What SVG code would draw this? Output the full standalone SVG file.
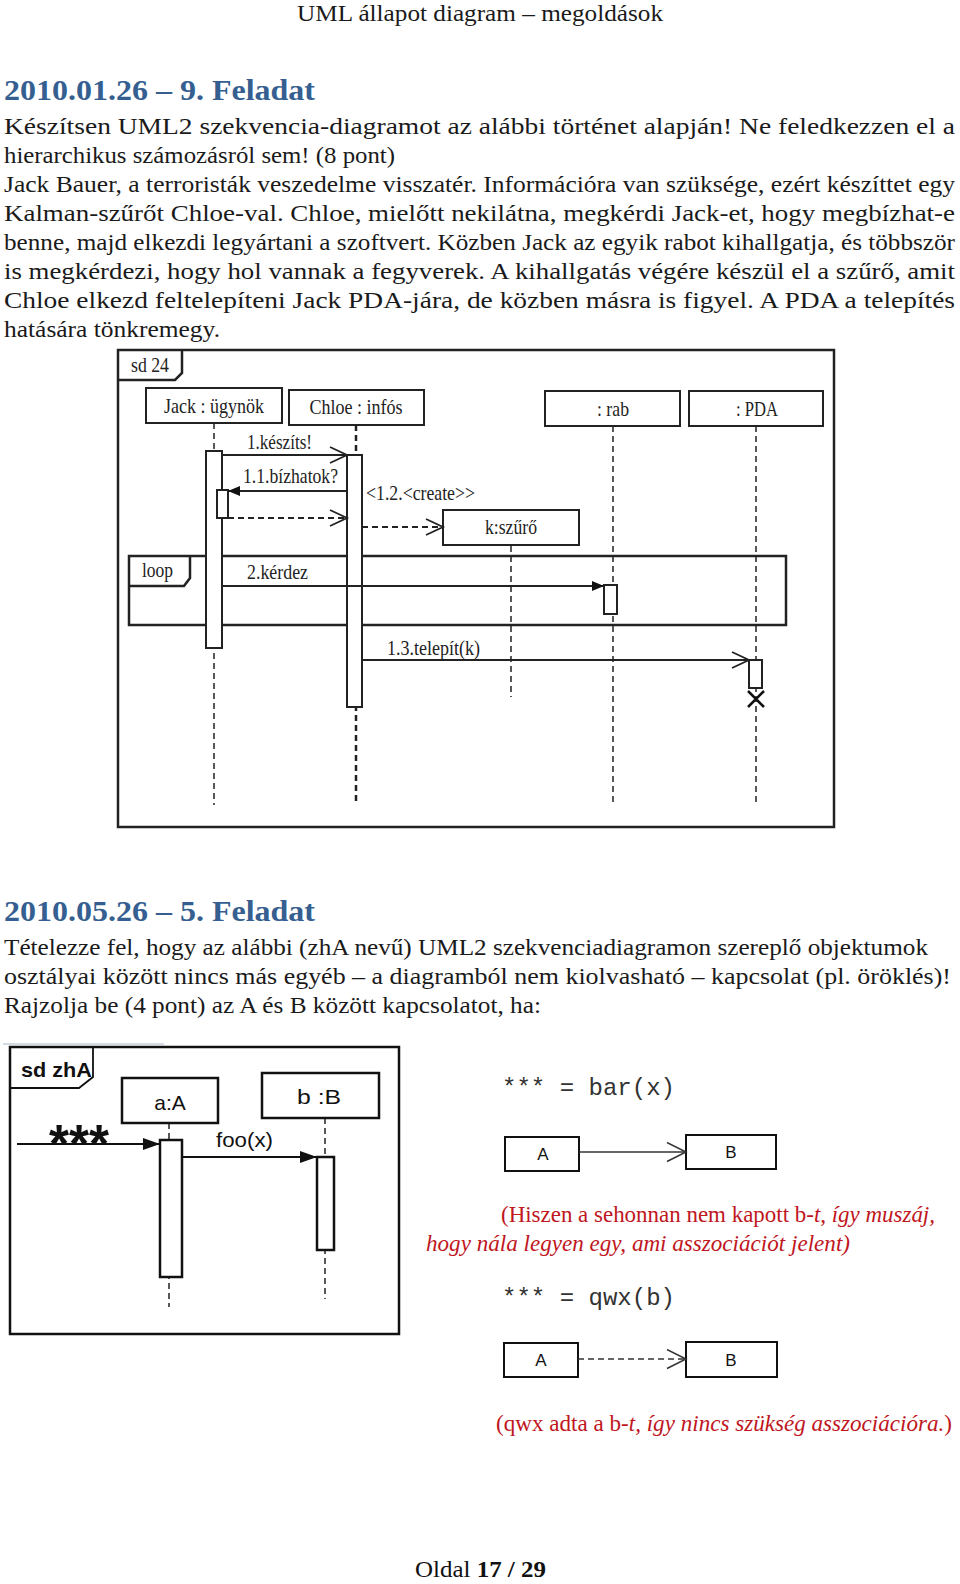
<svg xmlns="http://www.w3.org/2000/svg" width="960" height="1584" viewBox="0 0 960 1584">
<style>
.body{font-family:"Liberation Serif","Times New Roman",serif;font-size:24px;fill:#1a1a1a}
.hd{font-family:"Liberation Serif",serif;font-size:30px;font-weight:bold;fill:#365F91}
.t1{font-family:"Liberation Serif",serif;font-size:21px;fill:#222}
.t2{font-family:"Liberation Sans",Arial,sans-serif;font-size:21px;fill:#111}
.mono{font-family:"Liberation Mono","Courier New",monospace;font-size:24px;fill:#333}
.red{font-family:"Liberation Serif",serif;font-size:23px;fill:#c0161d}
.box{fill:#fff;stroke:#222;stroke-width:2}
.box2{fill:#fff;stroke:#111;stroke-width:2.5}
.fr{fill:none;stroke:#222;stroke-width:2.5}
.ll{stroke:#222;stroke-width:1.5;stroke-dasharray:6 4;fill:none}
.llb{stroke:#222;stroke-width:2.5;stroke-dasharray:6 4;fill:none}
.msg{stroke:#222;stroke-width:1.8;fill:none}
.dmsg{stroke:#222;stroke-width:1.8;fill:none;stroke-dasharray:6 4}
</style>
<defs>
<marker id="open" markerUnits="userSpaceOnUse" markerWidth="22" markerHeight="20" refX="18" refY="9" orient="auto"><path d="M1,1 L18,9 L1,17" fill="none" stroke="#222" stroke-width="1.8"/></marker>
<marker id="open2" markerUnits="userSpaceOnUse" markerWidth="24" markerHeight="22" refX="20" refY="10" orient="auto"><path d="M1,0.5 L20,10 L1,19.5" fill="none" stroke="#333" stroke-width="1.5"/></marker>
<marker id="fill" markerUnits="userSpaceOnUse" markerWidth="14" markerHeight="12" refX="12" refY="6" orient="auto"><path d="M0,1 L12,6 L0,11 z" fill="#111"/></marker>
<marker id="fill2" markerUnits="userSpaceOnUse" markerWidth="18" markerHeight="14" refX="17" refY="7" orient="auto"><path d="M0,1 L17,7 L0,13 z" fill="#111"/></marker>
</defs>

<!-- page header -->
<text x="297" y="21" font-family="Liberation Serif,serif" font-size="23" fill="#1a1a1a" textLength="366" lengthAdjust="spacingAndGlyphs">UML állapot diagram – megoldások</text>

<text class="hd" x="4" y="100" textLength="311" lengthAdjust="spacingAndGlyphs">2010.01.26 – 9. Feladat</text>

<g class="body">
<text x="4" y="134" textLength="951" lengthAdjust="spacingAndGlyphs">Készítsen UML2 szekvencia-diagramot az alábbi történet alapján! Ne feledkezzen el a</text>
<text x="4" y="163" textLength="391" lengthAdjust="spacingAndGlyphs">hierarchikus számozásról sem! (8 pont)</text>
<text x="4" y="192" textLength="951" lengthAdjust="spacingAndGlyphs">Jack Bauer, a terroristák veszedelme visszatér. Információra van szüksége, ezért készíttet egy</text>
<text x="4" y="221" textLength="951" lengthAdjust="spacingAndGlyphs">Kalman-szűrőt Chloe-val. Chloe, mielőtt nekilátna, megkérdi Jack-et, hogy megbízhat-e</text>
<text x="4" y="250" textLength="951" lengthAdjust="spacingAndGlyphs">benne, majd elkezdi legyártani a szoftvert. Közben Jack az egyik rabot kihallgatja, és többször</text>
<text x="4" y="279" textLength="951" lengthAdjust="spacingAndGlyphs">is megkérdezi, hogy hol vannak a fegyverek. A kihallgatás végére készül el a szűrő, amit</text>
<text x="4" y="308" textLength="951" lengthAdjust="spacingAndGlyphs">Chloe elkezd feltelepíteni Jack PDA-jára, de közben másra is figyel. A PDA a telepítés</text>
<text x="4" y="337" textLength="216" lengthAdjust="spacingAndGlyphs">hatására tönkremegy.</text>
</g>

<!-- ===== Sequence diagram sd 24 ===== -->
<g id="frame-sd24">
<rect class="fr" x="118" y="350" width="716" height="477"/>
<path class="fr" d="M118,380 L175,380 L182,373 L182,350"/>
<text class="t1" x="131" y="372" font-size="18" textLength="38" lengthAdjust="spacingAndGlyphs">sd 24</text>
</g>

<g id="loop-frame">
<rect class="fr" x="129" y="556" width="657" height="69"/>
<path class="fr" d="M129,586 L184,586 L190,578 L190,556"/>
<text class="t1" x="142" y="577" textLength="31" lengthAdjust="spacingAndGlyphs">loop</text>
</g>

<g id="lifelines">
<line class="ll" x1="214" y1="423" x2="214" y2="805"/>
<line class="llb" x1="356" y1="425" x2="356" y2="805"/>
<line class="ll" x1="613" y1="426" x2="613" y2="805"/>
<line class="ll" x1="756" y1="426" x2="756" y2="805"/>
<line class="ll" x1="511" y1="546" x2="511" y2="697"/>
</g>

<g id="jack">
<rect class="box" x="146" y="388" width="136" height="35"/>
<text class="t1" x="214" y="413" text-anchor="middle" textLength="100" lengthAdjust="spacingAndGlyphs">Jack : ügynök</text>
<rect class="box" x="206" y="451" width="16" height="197"/>
<rect class="box" x="217" y="490" width="11" height="28"/>
</g>

<g id="chloe">
<rect class="box" x="289" y="390" width="135" height="35"/>
<text class="t1" x="356" y="414" text-anchor="middle" textLength="93" lengthAdjust="spacingAndGlyphs">Chloe : infós</text>
<rect class="box" x="347" y="455" width="15" height="252"/>
</g>

<g id="rab">
<rect class="box" x="545" y="391" width="135" height="35"/>
<text class="t1" x="613" y="416" text-anchor="middle" textLength="32" lengthAdjust="spacingAndGlyphs">: rab</text>
<rect class="box" x="604" y="585" width="13" height="29"/>
</g>

<g id="pda">
<rect class="box" x="689" y="391" width="134" height="35"/>
<text class="t1" x="757" y="416" text-anchor="middle" textLength="42" lengthAdjust="spacingAndGlyphs">: PDA</text>
<rect class="box" x="749" y="660" width="13" height="28"/>
<path d="M748,691 L764,707 M764,691 L748,707" stroke="#111" stroke-width="2.5"/>
</g>

<g id="szuro">
<rect class="box" x="443" y="510" width="136" height="35"/>
<text class="t1" x="511" y="534" text-anchor="middle" textLength="52" lengthAdjust="spacingAndGlyphs">k:szűrő</text>
</g>

<g id="messages">
<line class="msg" x1="222" y1="455" x2="347" y2="455" marker-end="url(#open)"/>
<text class="t1" x="247" y="449" textLength="65" lengthAdjust="spacingAndGlyphs">1.készíts!</text>
<line class="msg" x1="347" y1="491" x2="228" y2="491" marker-end="url(#fill)"/>
<text class="t1" x="243" y="483" textLength="95" lengthAdjust="spacingAndGlyphs">1.1.bízhatok?</text>
<line class="dmsg" x1="228" y1="518" x2="347" y2="518" marker-end="url(#open)"/>
<text class="t1" x="366" y="500" textLength="109" lengthAdjust="spacingAndGlyphs">&lt;1.2.&lt;create&gt;&gt;</text>
<line class="dmsg" x1="362" y1="527" x2="443" y2="527" marker-end="url(#open)"/>
<line class="msg" x1="222" y1="586" x2="604" y2="586" marker-end="url(#fill)"/>
<text class="t1" x="247" y="579" textLength="61" lengthAdjust="spacingAndGlyphs">2.kérdez</text>
<line class="msg" x1="362" y1="660" x2="749" y2="660" marker-end="url(#open)"/>
<text class="t1" x="387" y="655" textLength="93" lengthAdjust="spacingAndGlyphs">1.3.telepít(k)</text>
</g>

<!-- ===== Section 2 ===== -->
<text class="hd" x="4" y="921" textLength="311" lengthAdjust="spacingAndGlyphs">2010.05.26 – 5. Feladat</text>
<g class="body">
<text x="4" y="955" textLength="924" lengthAdjust="spacingAndGlyphs">Tételezze fel, hogy az alábbi (zhA nevű) UML2 szekvenciadiagramon szereplő objektumok</text>
<text x="4" y="984" textLength="947" lengthAdjust="spacingAndGlyphs">osztályai között nincs más egyéb – a diagramból nem kiolvasható – kapcsolat (pl. öröklés)!</text>
<text x="4" y="1013" textLength="537" lengthAdjust="spacingAndGlyphs">Rajzolja be (4 pont) az A és B között kapcsolatot, ha:</text>
</g>

<line x1="3" y1="1044" x2="164" y2="1044" stroke="#a8b6c4" stroke-width="1"/>

<g id="frame-zhA">
<rect x="10" y="1047" width="389" height="287" fill="none" stroke="#111" stroke-width="2.5"/>
<path d="M10,1088 L79,1088 L93,1077 L93,1047" fill="none" stroke="#111" stroke-width="1.8"/>
<text class="t2" x="21" y="1077" font-weight="bold" textLength="71" lengthAdjust="spacingAndGlyphs">sd zhA</text>
</g>

<g id="zh-lifelines">
<line x1="169" y1="1123" x2="169" y2="1307" stroke="#222" stroke-width="1.5" stroke-dasharray="6 4"/>
<line x1="325" y1="1118" x2="325" y2="1299" stroke="#222" stroke-width="1.5" stroke-dasharray="6 4"/>
</g>

<g id="aA">
<rect class="box2" x="122" y="1078" width="96" height="45"/>
<text class="t2" x="170" y="1110" text-anchor="middle">a:A</text>
<rect class="box2" x="160" y="1140" width="22" height="137"/>
</g>

<g id="bB">
<rect class="box2" x="262" y="1073" width="117" height="45"/>
<text class="t2" x="319" y="1104" text-anchor="middle" textLength="44" lengthAdjust="spacingAndGlyphs">b :B</text>
<rect class="box2" x="317" y="1157" width="17" height="93"/>
</g>

<g id="zh-messages">
<line x1="17" y1="1144" x2="160" y2="1144" stroke="#111" stroke-width="1.8" marker-end="url(#fill2)"/>
<text x="49" y="1162" font-family="Liberation Sans,Arial,sans-serif" font-size="54" font-weight="bold" fill="#111" textLength="60" lengthAdjust="spacingAndGlyphs">***</text>
<line x1="182" y1="1157" x2="317" y2="1157" stroke="#111" stroke-width="1.8" marker-end="url(#fill2)"/>
<text class="t2" x="216" y="1147" textLength="57" lengthAdjust="spacingAndGlyphs">foo(x)</text>
</g>

<!-- right side answers -->
<text class="mono" x="502" y="1095" textLength="173" lengthAdjust="spacingAndGlyphs">*** = bar(x)</text>

<g id="A1">
<rect x="505" y="1137" width="74" height="34" fill="#fff" stroke="#111" stroke-width="2"/>
<text x="543" y="1160" text-anchor="middle" font-family="Liberation Sans,Arial,sans-serif" font-size="17" fill="#111">A</text>
</g>
<g id="B1">
<rect x="686" y="1135" width="90" height="34" fill="#fff" stroke="#111" stroke-width="2"/>
<text x="731" y="1158" text-anchor="middle" font-family="Liberation Sans,Arial,sans-serif" font-size="17" fill="#111">B</text>
</g>
<g id="assoc">
<line x1="579" y1="1152" x2="686" y2="1152" stroke="#333" stroke-width="1.5" marker-end="url(#open2)"/>
</g>

<text class="red" x="501" y="1222" textLength="434" lengthAdjust="spacingAndGlyphs">(Hiszen a sehonnan nem kapott b-<tspan font-style="italic">t, így muszáj,</tspan></text>
<text class="red" x="426" y="1251" font-style="italic" textLength="424" lengthAdjust="spacingAndGlyphs">hogy nála legyen egy, ami asszociációt jelent)</text>

<text class="mono" x="502" y="1305" textLength="173" lengthAdjust="spacingAndGlyphs">*** = qwx(b)</text>

<g id="A2">
<rect x="504" y="1343" width="74" height="34" fill="#fff" stroke="#111" stroke-width="2"/>
<text x="541" y="1366" text-anchor="middle" font-family="Liberation Sans,Arial,sans-serif" font-size="17" fill="#111">A</text>
</g>
<g id="B2">
<rect x="686" y="1342" width="91" height="35" fill="#fff" stroke="#111" stroke-width="2"/>
<text x="731" y="1366" text-anchor="middle" font-family="Liberation Sans,Arial,sans-serif" font-size="17" fill="#111">B</text>
</g>
<g id="dep">
<line x1="578" y1="1359" x2="686" y2="1359" stroke="#333" stroke-width="1.5" stroke-dasharray="6 4" marker-end="url(#open2)"/>
</g>

<text class="red" x="496" y="1431" textLength="456" lengthAdjust="spacingAndGlyphs">(qwx adta a b-<tspan font-style="italic">t, így nincs szükség asszociációra.</tspan>)</text>

<text x="415" y="1577" font-family="Liberation Serif,serif" font-size="23" fill="#111" textLength="131" lengthAdjust="spacingAndGlyphs">Oldal <tspan font-weight="bold">17 / 29</tspan></text>
</svg>
